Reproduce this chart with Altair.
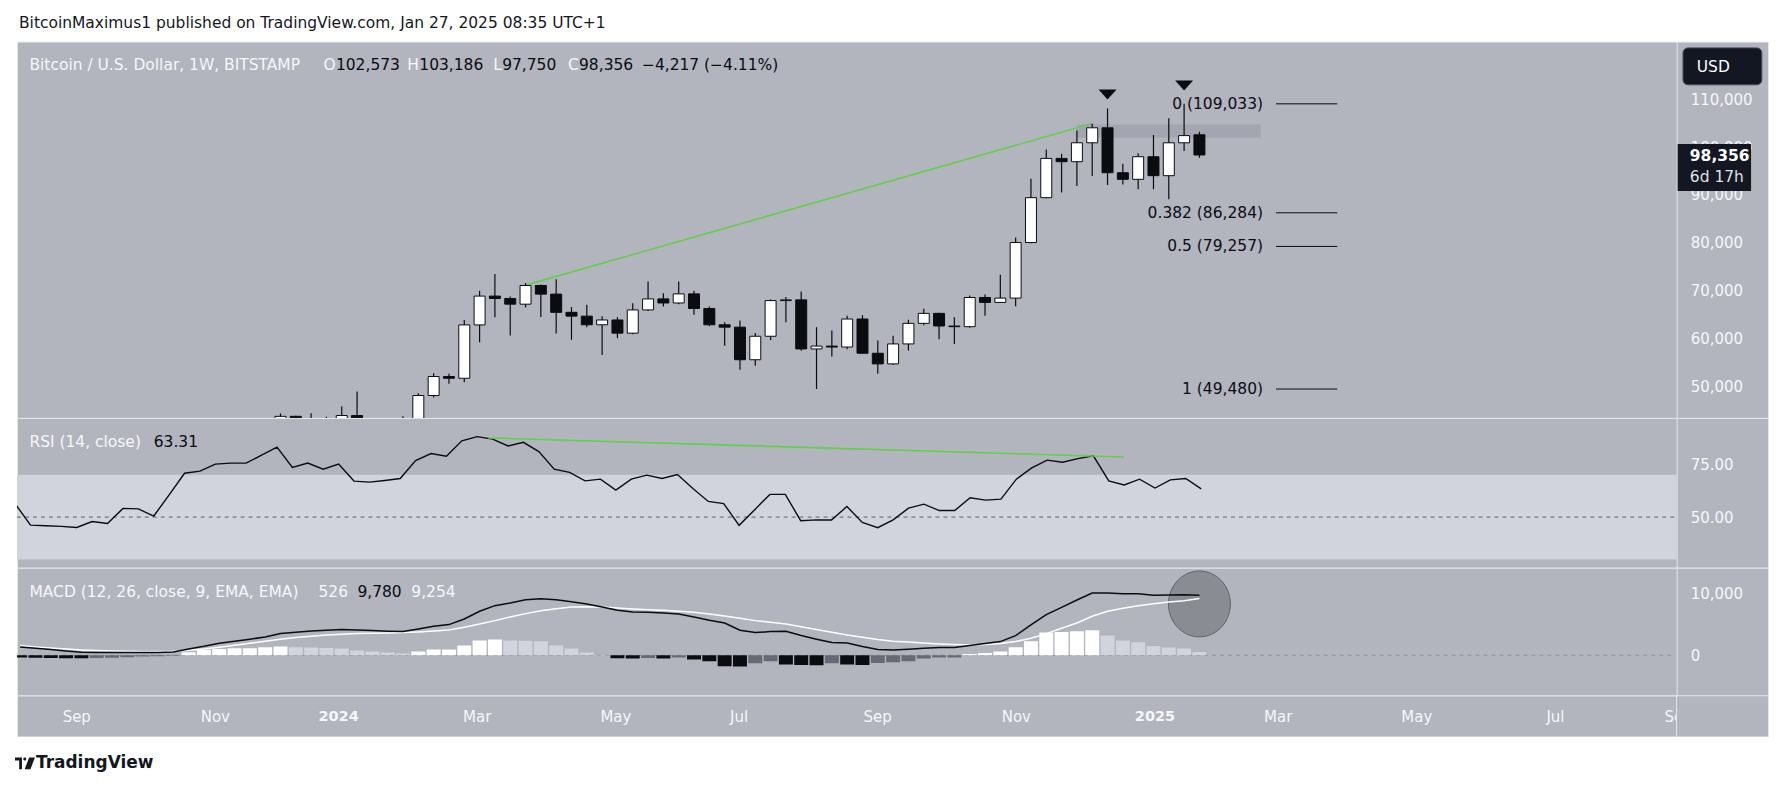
import altair as alt
import numpy as np
import pandas as pd

# ---------------- style constants ----------------
FONT = "DejaVu Sans"
PANEL = "#b2b5be"
BAND = "#d1d4dc"
SEP = "#e4e6eb"
INK = "#131722"
BLACK = "#0b0c10"
LIGHT = "#f6f7f9"
GREEN = "#62cf4e"

ANCHOR = pd.Timestamp("2025-01-27")   # last weekly bar

# ---------------- weekly candles (BTC/USD, BITSTAMP, 1W) ----------------
CANDLE_FIRST_WEEK = "2023-12-04"
opens = [39970, 43780, 41370, 42990, 42280, 43950, 41730, 41580, 42030, 42580,
         48130, 52090, 51730, 62870, 68890, 68390, 67200, 71100, 69300, 65500,
         64700, 62900, 63900, 61150, 66000, 68300, 67450, 69350, 66300, 62900,
         62400, 55600, 60500, 67950, 68100, 57850, 58450, 58250, 64100, 56950,
         54730, 58900, 63200, 65280, 62640, 62500, 68600, 67570, 68470, 80070,
         89440, 97640, 96950, 100900, 104030, 94650, 93270, 97990, 94030, 100900,
         102573]
highs = [44400, 43900, 44400, 43700, 45850, 48950, 43250, 42200, 43800, 48600,
         52800, 52650, 63900, 70000, 73500, 68800, 71600, 71300, 72400, 66600,
         67100, 64700, 64500, 67400, 71950, 69500, 71950, 70000, 66700, 63400,
         63800, 61200, 68200, 68700, 69850, 62400, 61700, 64800, 64900, 59600,
         60600, 63950, 66250, 65400, 64450, 69000, 69200, 73350, 81100, 93400,
         99500, 98600, 103450, 104900, 108050, 96500, 98700, 102500, 106000, 109033,
         103186]
lows = [39000, 40200, 40550, 41300, 40750, 41500, 40300, 38500, 41880, 42250,
        47700, 50560, 50900, 59240, 64450, 60650, 66530, 64500, 61100, 59750,
        62400, 56600, 60100, 60900, 65800, 66700, 67200, 65000, 62600, 58500,
        53500, 54350, 59700, 63400, 57500, 49480, 56250, 57800, 56900, 52650,
        54500, 57500, 62800, 59900, 58900, 62300, 64800, 67430, 66750, 79900,
        89300, 90500, 91900, 93950, 92100, 92200, 91200, 91200, 89100, 99170,
        97750]
closes = [43780, 41370, 42990, 42280, 43950, 41730, 41580, 42030, 42580, 48130,
          52090, 51730, 62870, 68890, 68390, 67200, 71100, 69300, 65500, 64700,
          62900, 63900, 61150, 66000, 68300, 67450, 69350, 66300, 62900, 62400,
          55600, 60500, 67950, 68100, 57850, 58450, 58250, 64100, 56950, 54730,
          58900, 63200, 65280, 62640, 62500, 68600, 67570, 68470, 80070, 89440,
          97640, 96950, 100900, 104030, 94650, 93270, 97990, 94030, 100900, 102400,
          98356]

# ---------------- indicators (weekly, first bar 2023-08-07) ----------------
IND_FIRST_WEEK = "2023-08-07"
rsi = [56.3, 46.2, 45.9, 45.6, 45.1, 47.9, 47.0, 54.1, 53.9, 50.5,
       60.5, 70.7, 71.7, 75.0, 75.5, 75.5, 79.2, 83.0, 73.4, 75.5,
       72.6, 75.0, 67.0, 66.5, 67.3, 68.2, 76.7, 80.0, 78.7, 86.0,
       88.0, 86.8, 83.6, 85.3, 80.9, 72.6, 71.1, 67.1, 67.9, 62.7,
       67.9, 69.8, 68.2, 70.1, 63.5, 57.4, 56.4, 46.1, 53.4, 60.7,
       60.7, 48.3, 48.7, 48.6, 55.0, 47.5, 45.0, 48.7, 54.2, 56.1,
       53.1, 53.1, 59.1, 58.0, 58.5, 67.9, 73.2, 76.9, 75.9, 77.6,
       78.9, 67.1, 65.2, 67.9, 63.7, 67.6, 68.2, 63.31]
macd = [1363, 1146, 928, 711, 494, 440, 440, 440, 440, 440,
        548, 1037, 1466, 1960, 2286, 2611, 2991, 3534, 3751, 3968,
        4077, 4186, 4131, 4023, 3914, 3860, 4294, 4729, 5000, 5923,
        7172, 8095, 8529, 9072, 9235, 9072, 8746, 8366, 7877, 7334,
        7063, 7009, 6900, 6737, 6249, 5706, 5271, 4077, 3697, 3860,
        3914, 3209, 2611, 2069, 2014, 1417, 928, 874, 983, 1146,
        1254, 1254, 1580, 1906, 2232, 3209, 4946, 6629, 7823, 9018,
        10158, 10158, 10049, 10049, 9780, 9834, 9889, 9780]
signal = [1580, 1363, 1200, 1037, 874, 765, 711, 657, 603, 603,
          657, 820, 1037, 1308, 1634, 1960, 2286, 2611, 2883, 3100,
          3317, 3426, 3534, 3588, 3643, 3697, 3806, 3968, 4131, 4566,
          5109, 5652, 6249, 6792, 7280, 7606, 7877, 7932, 7877, 7714,
          7552, 7443, 7334, 7172, 7009, 6737, 6412, 6032, 5652, 5380,
          5109, 4669, 4186, 3751, 3317, 2937, 2557, 2286, 2177, 2014,
          1851, 1743, 1688, 1743, 1906, 2232, 2774, 3534, 4403, 5271,
          6357, 7172, 7660, 8095, 8420, 8692, 8909, 9254]
hist = [-350, -400, -450, -480, -500, -460, -400, -320, -220, -150,
        -60, 480, 917, 1026, 1134, 1150, 1308, 1417, 1308, 1254,
        1200, 1091, 765, 603, 440, 277, 603, 928, 950, 1580,
        2394, 2557, 2394, 2350, 2286, 1580, 1091, 440, 60, -483,
        -530, -430, -540, -380, -700, -970, -1790, -1840, -1300, -970,
        -1520, -1580, -1630, -1300, -1520, -1580, -1250, -1130, -970, -540,
        -380, -350, 220, 385, 603, 1308, 2285, 3697, 3806, 3914,
        4077, 3209, 2394, 2123, 1472, 1254, 1091, 526]

# ---------------- annotations ----------------
price_trend_dates = ["2024-03-25", "2024-12-09"]
price_trend_values = [71180, 104930]
rsi_trend_dates = ["2024-03-09", "2024-12-23"]
rsi_trend_values = [87.4, 78.4]
zone_dates = ["2024-12-02", "2025-02-24"]
zone_prices = [101940, 104730]
arrow_dates = ["2024-12-16", "2025-01-20"]
arrow_prices = [110980, 112860]
fib_ratios = ["0", "0.382", "0.5", "1"]
fib_prices = [109033, 86284, 79257, 49480]
fib_line_dates = ["2025-03-03", "2025-03-31"]
macd_circle_date = "2025-01-27"
macd_circle_value = 8370
last_price = 98356
countdown = "6d 17h"
price_ticks = [50000, 60000, 70000, 80000, 90000, 100000, 110000]
rsi_ticks = [50, 75]
rsi_band = [30, 70]
rsi_mid = 50
macd_ticks = [0, 10000]
time_label_dates = ["2023-09-04", "2023-11-06", "2024-01-01", "2024-03-04", "2024-05-06",
                    "2024-07-01", "2024-09-02", "2024-11-04", "2025-01-06", "2025-03-03",
                    "2025-05-05", "2025-07-07", "2025-09-01"]
time_labels = ["Sep", "Nov", "2024", "Mar", "May", "Jul", "Sep", "Nov", "2025",
               "Mar", "May", "Jul", "Sep"]
header_text = "BitcoinMaximus1 published on TradingView.com, Jan 27, 2025 08:35 UTC+1"
symbol_title = "Bitcoin / U.S. Dollar, 1W, BITSTAMP"
ohlc_letters = ["O", "H", "L", "C"]
ohlc_values = ["102,573", "103,186", "97,750", "98,356"]
change_text = "\u22124,217 (\u22124.11%)"
rsi_title, rsi_value = "RSI (14, close)", "63.31"
macd_title = "MACD (12, 26, close, 9, EMA, EMA)"
macd_values = ["526", "9,780", "9,254"]

# ---------------- layout ----------------
W = 1754
H_HEAD, H_PRICE, H_RSI, H_MACD, H_TIME, H_FOOT = 41, 377, 150, 128, 41, 54
XMIN, XMAX, PLOT_END = -76.88, 36.80, 30.86


def weeks(dates):
    return [(pd.Timestamp(d) - ANCHOR).days / 7.0 for d in dates]


xscale = alt.Scale(domain=[XMIN, XMAX], nice=False, zero=False)


def X(f):
    return alt.X(f, type="quantitative", scale=xscale, axis=None)


def yaxis(vals, fmt):
    return alt.Axis(orient="right", offset=-91.5, values=vals, format=fmt, title=None,
                    grid=False, ticks=False, domain=True, domainColor=SEP, domainWidth=1,
                    labelColor=LIGHT, labelFont=FONT, labelFontSize=15, labelPadding=13.5)


one = pd.DataFrame({"k": [0]})


def label(txt, px, py, color, size=15.5, weight="normal", align="left"):
    return alt.Chart(one).mark_text(text=txt, align=align, baseline="middle", font=FONT,
                                     fontSize=size, fontWeight=weight, color=color).encode(
        x=alt.value(px), y=alt.value(py))


# ---------------- price pane ----------------
pscale = alt.Scale(domain=[43440, 122030], nice=False, zero=False)
paxis = yaxis(price_ticks, ",.0f")


def PY(f):
    return alt.Y(f, type="quantitative", scale=pscale, axis=paxis)


cdf = pd.DataFrame({
    "w": weeks(pd.date_range(CANDLE_FIRST_WEEK, periods=len(opens), freq="W-MON")),
    "open": opens, "high": highs, "low": lows, "close": closes})
cdf["dir"] = np.where(cdf["close"] >= cdf["open"], "up", "down")

zone_df = pd.DataFrame({"w0": [weeks(zone_dates)[0]], "w1": [weeks(zone_dates)[1]],
                        "lo": [zone_prices[0]], "hi": [zone_prices[1]]})
zone = alt.Chart(zone_df).mark_rect(fill="#787b86", opacity=0.25).encode(
    x=X("w0"), x2="w1", y=PY("lo"), y2="hi")

ptrend = alt.Chart(pd.DataFrame({"w": weeks(price_trend_dates), "p": price_trend_values})).mark_line(
    color=GREEN, strokeWidth=1.6, clip=True).encode(x=X("w"), y=PY("p"))

wick = alt.Chart(cdf).mark_rule(color=BLACK, strokeWidth=1.2, clip=True).encode(
    x=X("w"), y=PY("low"), y2="high")
body = alt.Chart(cdf).mark_bar(size=11, stroke=BLACK, strokeWidth=1, clip=True, orient="vertical").encode(
    x=X("w"), y=PY("open"), y2="close",
    fill=alt.Fill("dir:N", scale=alt.Scale(domain=["up", "down"], range=["#ffffff", BLACK]), legend=None))

TRI = "M-1,-0.55L1,-0.55L0,0.55Z"
arrows = alt.Chart(pd.DataFrame({"w": weeks(arrow_dates), "p": arrow_prices})).mark_point(
    shape=TRI, size=324, filled=True, color=BLACK, strokeWidth=0, opacity=1).encode(x=X("w"), y=PY("p"))

fib_df = pd.DataFrame({"w0": weeks([fib_line_dates[0]]) * len(fib_prices),
                       "w1": weeks([fib_line_dates[1]]) * len(fib_prices),
                       "p": fib_prices,
                       "lab": [f"{r} ({p:,})" for r, p in zip(fib_ratios, fib_prices)]})
fib_lines = alt.Chart(fib_df).mark_rule(color=BLACK, strokeWidth=1).encode(x=X("w0"), x2="w1", y=PY("p"))
fib_text = alt.Chart(fib_df).mark_text(align="right", baseline="middle", dx=-13, font=FONT,
                                       fontSize=15.5, color=BLACK).encode(x=X("w0"), y=PY("p"), text="lab:N")

tag_df = pd.DataFrame({"p": [last_price], "t": [f"{last_price:,}"], "cd": [countdown]})
tag_box = alt.Chart(tag_df).mark_rect(fill=INK, yOffset=-11, y2Offset=36).encode(
    x=alt.value(1663.5), x2=alt.value(1737), y=PY("p"), y2="p")
tag_txt = alt.Chart(tag_df).mark_text(align="left", baseline="middle", font=FONT, fontSize=15.5,
                                      fontWeight="bold", color="#ffffff", dy=1).encode(
    x=alt.value(1675.7), y=PY("p"), text="t:N")
tag_cd = alt.Chart(tag_df).mark_text(align="left", baseline="middle", font=FONT, fontSize=15.5,
                                     color="#dfe1e6", dy=22).encode(
    x=alt.value(1675.7), y=PY("p"), text="cd:N")

usd_box = alt.Chart(one).mark_rect(fill=INK, stroke="#4a4e5a", strokeWidth=1, cornerRadius=5).encode(
    x=alt.value(1668.8), x2=alt.value(1747.8), y=alt.value(6.3), y2=alt.value(43.3))
usd_txt = label("USD", 1682.6, 25, "#ffffff", size=15.5)

title_layers = [label(symbol_title, 12.5, 23, LIGHT)]
letter_x = [307, 391, 477, 552]
value_x = [319.5, 403, 486, 563]
for lt, vl, lx, vx in zip(ohlc_letters, ohlc_values, letter_x, value_x):
    title_layers.append(label(lt, lx, 23, LIGHT))
    title_layers.append(label(vl, vx, 23, BLACK))
title_layers.append(label(change_text, 626, 23, BLACK))

price = alt.layer(zone, ptrend, wick, body, arrows, fib_lines, fib_text, tag_box, tag_txt, tag_cd,
                  usd_box, usd_txt, *title_layers).properties(width=W, height=H_PRICE)

# ---------------- RSI pane ----------------
rscale = alt.Scale(domain=[26.1, 96.8], nice=False, zero=False)
raxis = yaxis(rsi_ticks, ".2f")


def RY(f):
    return alt.Y(f, type="quantitative", scale=rscale, axis=raxis)


idates = pd.date_range(IND_FIRST_WEEK, periods=len(rsi), freq="W-MON")
idf = pd.DataFrame({"w": weeks(idates), "rsi": rsi, "macd": macd, "signal": signal, "hist": hist})
prev = idf["hist"].shift(1)
idf["hcat"] = np.where(idf["hist"] >= 0,
                       np.where(idf["hist"] > prev, "pos_up", "pos_dn"),
                       np.where(idf["hist"] > prev, "neg_up", "neg_dn"))

span_df = pd.DataFrame({"x0": [XMIN], "x1": [PLOT_END], "lo": [rsi_band[0]], "hi": [rsi_band[1]],
                        "mid": [rsi_mid], "zero": [0]})
band = alt.Chart(span_df).mark_rect(fill=BAND).encode(x=X("x0"), x2="x1", y=RY("lo"), y2="hi")
mid = alt.Chart(span_df).mark_rule(color="#5d606b", strokeWidth=1, strokeDash=[4, 4]).encode(
    x=X("x0"), x2="x1", y=RY("mid"))
rline = alt.Chart(idf).mark_line(color=BLACK, strokeWidth=1.4, clip=True).encode(x=X("w"), y=RY("rsi"))
rtrend = alt.Chart(pd.DataFrame({"w": weeks(rsi_trend_dates), "v": rsi_trend_values})).mark_line(
    color=GREEN, strokeWidth=1.6, clip=True).encode(x=X("w"), y=RY("v"))
rsi_panel = alt.layer(band, mid, rline, rtrend,
                      label(rsi_title, 12.5, 24, LIGHT), label(rsi_value, 137, 24, BLACK)
                      ).properties(width=W, height=H_RSI)

# ---------------- MACD pane ----------------
mscale = alt.Scale(domain=[-6564, 14284], nice=False, zero=False)
maxis = yaxis(macd_ticks, ",.0f")


def MY(f):
    return alt.Y(f, type="quantitative", scale=mscale, axis=maxis)


zero = alt.Chart(span_df).mark_rule(color="#8d9099", strokeWidth=1, strokeDash=[4, 4]).encode(
    x=X("x0"), x2="x1", y=MY("zero"))
bars = alt.Chart(idf).mark_bar(size=14, clip=True, orient="vertical").encode(
    x=X("w"), y=MY("hist"), y2=alt.Y2("zero"),
    color=alt.Color("hcat:N", legend=None,
                    scale=alt.Scale(domain=["pos_up", "pos_dn", "neg_up", "neg_dn"],
                                    range=["#ffffff", "#d1d4dc", "#676a75", BLACK]))
).transform_calculate(zero="0")
ELL = "M-0.94,0A0.94,1,0,1,0,0.94,0A0.94,1,0,1,0,-0.94,0Z"
circ = alt.Chart(pd.DataFrame({"w": weeks([macd_circle_date]), "v": [macd_circle_value]})).mark_point(
    shape=ELL, size=4356, filled=True, fill="#8a8c94", stroke="#5f626c", strokeWidth=1, opacity=1
).encode(x=X("w"), y=MY("v"))
sig_line = alt.Chart(idf).mark_line(color="#ffffff", strokeWidth=1.5, clip=True).encode(x=X("w"), y=MY("signal"))
macd_line = alt.Chart(idf).mark_line(color=BLACK, strokeWidth=1.5, clip=True).encode(x=X("w"), y=MY("macd"))
mlabels = [label(macd_title, 12.5, 24, LIGHT), label(macd_values[0], 302, 24, LIGHT),
           label(macd_values[1], 341, 24, BLACK), label(macd_values[2], 395, 24, LIGHT)]
macd_panel = alt.layer(zero, bars, circ, sig_line, macd_line, *mlabels).properties(width=W, height=H_MACD)

# ---------------- time strip ----------------
tdf = pd.DataFrame({"w": weeks(time_label_dates), "lab": time_labels})
tdf["year"] = tdf["lab"].str.isdigit()
t_month = alt.Chart(tdf).transform_filter("!datum.year").mark_text(
    font=FONT, fontSize=15, color=LIGHT, baseline="middle", align="center").encode(
    x=X("w"), y=alt.value(22), text="lab:N")
t_year = alt.Chart(tdf).transform_filter("datum.year").mark_text(
    font=FONT, fontSize=14.5, fontWeight="bold", color=LIGHT, baseline="middle", align="center").encode(
    x=X("w"), y=alt.value(22), text="lab:N")
col_df = pd.DataFrame({"x0": [PLOT_END], "x1": [XMAX]})
col = alt.Chart(col_df).mark_rect(fill=PANEL).encode(x=X("x0"), x2="x1", y=alt.value(1), y2=alt.value(H_TIME - 1))
col_sep = alt.Chart(col_df).mark_rule(color=SEP, strokeWidth=1).encode(x=X("x0"), y=alt.value(0), y2=alt.value(H_TIME))
time_panel = alt.layer(t_month, t_year, col, col_sep).properties(width=W, height=H_TIME)

# ---------------- header / footer ----------------
head = label(header_text, 2, 22, INK, size=15.5).properties(
    width=W, height=H_HEAD, view=alt.ViewBackground(fill="white", strokeOpacity=0))

LOGO = ("M-1,-0.6L-0.3,-0.6L-0.3,0.6L-0.58,0.6L-0.58,-0.3L-1,-0.3Z"
        "M-0.17,-0.45A0.15,0.15,0,1,0,0.13,-0.45A0.15,0.15,0,1,0,-0.17,-0.45Z"
        "M0.42,-0.6L1,-0.6L0.55,0.6L-0.03,0.6Z")
logo = alt.Chart(one).mark_point(shape=LOGO, size=400, filled=True, color=INK, strokeWidth=0, opacity=1).encode(
    x=alt.value(8), y=alt.value(27))
foot = alt.layer(logo, label("TradingView", 19, 27, INK, size=17, weight="bold")).properties(
    width=W, height=H_FOOT, view=alt.ViewBackground(fill="white", strokeOpacity=0))

chart = alt.vconcat(head, price, rsi_panel, macd_panel, time_panel, foot, spacing=0, bounds="flush").properties(
    padding={"left": 15, "right": 16, "top": 0, "bottom": 0},
    autosize=alt.AutoSizeParams(type="pad"),
).configure(background="white", font=FONT).configure_view(fill=PANEL, stroke=SEP, strokeWidth=1)

chart.save("out.html", embed_options={"renderer": "svg", "actions": False})
